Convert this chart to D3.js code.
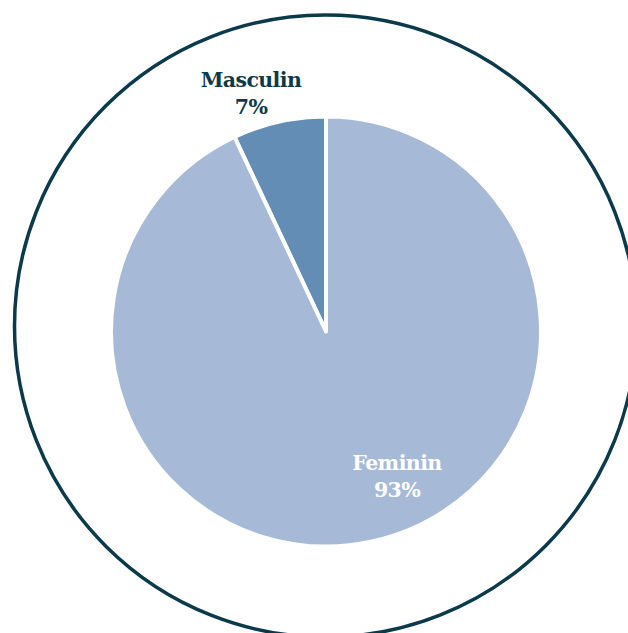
<!DOCTYPE html>
<html>
<head>
<meta charset="utf-8">
<script src="https://cdn.jsdelivr.net/npm/d3@7"></script>
<style>
  html, body { margin: 0; padding: 0; background: #ffffff; }
  svg { display: block; }
  .lbl { font-family: "DejaVu Serif", "Liberation Serif", serif; font-weight: bold; font-size: 20.5px; letter-spacing: -0.6px; }
</style>
</head>
<body>
<svg id="chart" width="628" height="633"></svg>
<script>
// Gender split
const categories = ["Masculin", "Feminin"];
const values = [7, 93];
const colors = ["#648db6", "#a6bad7"];
const labelColors = ["#0d3a4a", "#ffffff"];

const svg = d3.select("#chart");

// Outer frame circle
svg.append("circle")
  .attr("cx", 325.5).attr("cy", 326).attr("r", 311)
  .attr("fill", "none")
  .attr("stroke", "#0b3a4b")
  .attr("stroke-width", 3.5);

const cx = 326, cy = 331.5, R = 215;
const g = svg.append("g").attr("transform", `translate(${cx},${cy})`);

const offset = 2 * Math.PI * values[0] / 100;
const pie = d3.pie().sort(null).value(d => d.value)
  .startAngle(-offset).endAngle(2 * Math.PI - offset);
const data = categories.map((c, i) => ({ name: c, value: values[i], color: colors[i], lc: labelColors[i] }));
const arcs = pie(data);
const arc = d3.arc().innerRadius(0).outerRadius(R);

g.selectAll("path.slice").data(arcs).enter().append("path")
  .attr("class", "slice")
  .attr("d", arc)
  .attr("fill", d => d.data.color)
  .attr("stroke", "#ffffff")
  .attr("stroke-width", 4)
  .attr("stroke-linejoin", "round");

// Label anchors (relative to pie centre)
const labelPos = [[-75, -244.5], [71, 138.5]];
arcs.forEach((a, i) => {
  const t = g.append("text").attr("class", "lbl")
    .attr("text-anchor", "middle")
    .attr("fill", a.data.lc)
    .attr("x", labelPos[i][0]).attr("y", labelPos[i][1]);
  t.append("tspan").attr("x", labelPos[i][0]).text(a.data.name);
  t.append("tspan").attr("x", labelPos[i][0]).attr("dy", 27).text(a.data.value + "%");
});
</script>
</body>
</html>
